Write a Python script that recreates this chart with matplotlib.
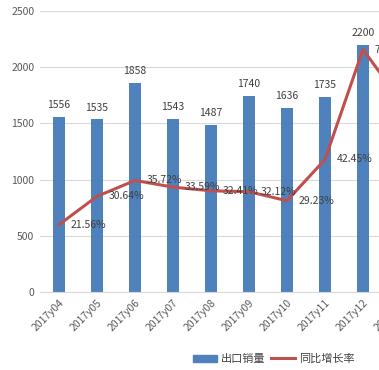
"""
出口销量 vs 同比增长率 - bar + line combo chart
"""
import matplotlib.pyplot as plt
import numpy as np

plt.rcParams['font.family'] = ['Noto Sans CJK SC', 'DejaVu Sans']

# data
months = ['2017y04', '2017y05', '2017y06', '2017y07', '2017y08',
          '2017y09', '2017y10', '2017y11', '2017y12', '2018y01']
sales = [1556, 1535, 1858, 1543, 1487, 1740, 1636, 1735, 2200, np.nan]
growth = [21.56, 30.64, 35.72, 33.59, 32.41, 32.12, 29.23, 42.45, 77.66, 61.0]

colors = {
    'bar': '#4F81BD',
    'line': '#C0504D',
    'text': '#404040',
    'tick': '#595959',
    'grid': '#D9D9D9',
}

fig = plt.figure(figsize=(3.79, 3.70), dpi=100)
# axes runs past the right edge, the reference is cropped there
ax = fig.add_axes([40 / 379, 78 / 370, 380 / 379, 281 / 370])
x = np.arange(len(months))

ax.bar(x, sales, width=0.29, color=colors['bar'], zorder=2)
ax.set_xlim(-0.5, len(months) - 0.5)
ax.set_ylim(0, 2500)
ax.set_yticks(range(0, 2501, 500))
ax.grid(axis='y', color=colors['grid'], linewidth=0.8, zorder=0)
for s in ['top', 'right', 'left']:
    ax.spines[s].set_visible(False)
ax.spines['bottom'].set_color(colors['grid'])
ax.tick_params(axis='both', length=0, labelsize=7.5, colors=colors['tick'], pad=4)
ax.set_xticks(x)
ax.set_xticklabels(months, rotation=45, ha='right', rotation_mode='anchor')

for xi, v in zip(x, sales):
    if not np.isnan(v):
        ax.annotate(f'{v:.0f}', (xi, v), xytext=(0, 5), textcoords='offset points',
                    ha='center', va='bottom', fontsize=7.5, color=colors['text'])

# growth rate on a hidden secondary scale
ax2 = ax.twinx()
ax2.set_ylim(0, 90)
ax2.axis('off')
ax2.plot(x, growth, color=colors['line'], linewidth=2.2, zorder=3)
for xi, g in zip(x[:-1], growth[:-1]):
    ax2.annotate(f'{g:.2f}%', (xi, g), xytext=(8.5, 0), textcoords='offset points',
                 ha='left', va='center', fontsize=7.5, color=colors['text'])

handles = [plt.Rectangle((0, 0), 1, 1, color=colors['bar']),
           plt.Line2D([0], [0], color=colors['line'], linewidth=2.2)]
fig.legend(handles, ['出口销量', '同比增长率'], loc='center left',
           bbox_to_anchor=(183 / 379, 1 - 359 / 370), ncol=2, frameon=False,
           fontsize=8, handlelength=2.2, handleheight=0.6, columnspacing=0.5,
           handletextpad=0.3, labelcolor=colors['text'])

fig.savefig('out.png', dpi=100, facecolor='white')
